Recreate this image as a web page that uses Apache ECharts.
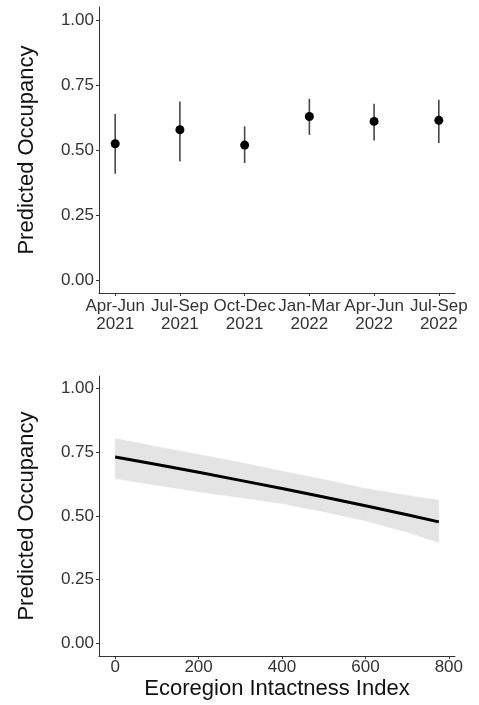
<!DOCTYPE html>
<html>
<head>
<meta charset="utf-8">
<script src="https://cdn.jsdelivr.net/npm/echarts@6/dist/echarts.min.js"></script>
<style>
  html, body { margin: 0; padding: 0; background: #ffffff; }
  #chart { width: 479px; height: 705px; }
</style>
</head>
<body>
<div id="chart"></div>
<script>
// Seasonal occupancy estimates with 95% intervals
const seasons = ['Apr-Jun\n2021', 'Jul-Sep\n2021', 'Oct-Dec\n2021', 'Jan-Mar\n2022', 'Apr-Jun\n2022', 'Jul-Sep\n2022'];
const seasonEstimate = [0.524, 0.578, 0.519, 0.629, 0.610, 0.614];
const seasonLower = [0.409, 0.456, 0.450, 0.558, 0.537, 0.527];
const seasonUpper = [0.638, 0.687, 0.591, 0.697, 0.678, 0.693];

// Occupancy as a function of the ecoregion intactness index
const intactness = [0, 100, 200, 300, 400, 500, 600, 700, 776];
const fitMean = [0.732, 0.702, 0.672, 0.640, 0.608, 0.575, 0.540, 0.505, 0.477];
const fitLower = [0.647, 0.621, 0.595, 0.573, 0.549, 0.517, 0.481, 0.437, 0.396];
const fitUpper = [0.804, 0.772, 0.742, 0.710, 0.676, 0.643, 0.608, 0.581, 0.562];

// Tick positions
const occupancyTicks = [0, 0.25, 0.5, 0.75, 1];
const seasonTicks = [1, 2, 3, 4, 5, 6];
const intactnessTicks = [0, 200, 400, 600, 800];

const FONT = "'Liberation Sans', Arial, Helvetica, sans-serif";
const AXIS_COLOR = '#333333';
const LABEL_COLOR = '#333333';
const TITLE_COLOR = '#111111';
const BAND_COLOR = '#e4e4e4';

function yAxisFor(gridIndex) {
  return {
    type: 'value', gridIndex,
    min: -0.05, max: 1.05,
    name: 'Predicted Occupancy', nameLocation: 'middle', nameGap: 61,
    nameTextStyle: { fontFamily: FONT, fontSize: 22, color: TITLE_COLOR },
    axisLine: { show: true, onZero: false, lineStyle: { color: AXIS_COLOR, width: 1 } },
    axisTick: { show: true, length: 3, customValues: occupancyTicks, lineStyle: { color: AXIS_COLOR } },
    axisLabel: {
      customValues: occupancyTicks, margin: 5,
      fontFamily: FONT, fontSize: 17, color: LABEL_COLOR,
      formatter: v => v.toFixed(2)
    },
    splitLine: { show: false }
  };
}

// Band pieces: one quadrilateral between each pair of neighbouring fit points
const bandPieces = intactness.slice(0, -1).map((x, i) => [
  x, fitLower[i], fitUpper[i], intactness[i + 1], fitLower[i + 1], fitUpper[i + 1]
]);

const chart = echarts.init(document.getElementById('chart'), null, { renderer: 'canvas' });

chart.setOption({
  backgroundColor: '#ffffff',
  animation: false,
  grid: [
    { left: 99, right: 24, top: 7, height: 286, containLabel: false, outerBoundsMode: 'none' },
    { left: 99, right: 24, top: 376, height: 280, containLabel: false, outerBoundsMode: 'none' }
  ],
  xAxis: [
    {
      type: 'value', gridIndex: 0, min: 0.75, max: 6.25,
      axisLine: { show: true, onZero: false, lineStyle: { color: AXIS_COLOR, width: 1 } },
      axisTick: { show: true, length: 3, customValues: seasonTicks, lineStyle: { color: AXIS_COLOR } },
      axisLabel: {
        customValues: seasonTicks, margin: 4,
        fontFamily: FONT, fontSize: 17, lineHeight: 18, color: LABEL_COLOR,
        formatter: v => seasons[Math.round(v) - 1] || ''
      },
      splitLine: { show: false }
    },
    {
      type: 'value', gridIndex: 1, min: -38.8, max: 814.8,
      name: 'Ecoregion Intactness Index', nameLocation: 'middle', nameGap: 22,
      nameTextStyle: { fontFamily: FONT, fontSize: 22, color: TITLE_COLOR },
      axisLine: { show: true, onZero: false, lineStyle: { color: AXIS_COLOR, width: 1 } },
      axisTick: { show: true, length: 3, customValues: intactnessTicks, lineStyle: { color: AXIS_COLOR } },
      axisLabel: {
        customValues: intactnessTicks, margin: 3,
        fontFamily: FONT, fontSize: 17, color: LABEL_COLOR
      },
      splitLine: { show: false }
    }
  ],
  yAxis: [yAxisFor(0), yAxisFor(1)],
  series: [
    {
      // Interval lines for each season
      type: 'custom', xAxisIndex: 0, yAxisIndex: 0,
      data: seasons.map((s, i) => [i + 1, seasonLower[i], seasonUpper[i]]),
      renderItem: (params, api) => {
        const a = api.coord([api.value(0), api.value(1)]);
        const b = api.coord([api.value(0), api.value(2)]);
        return {
          type: 'line',
          shape: { x1: a[0], y1: a[1], x2: b[0], y2: b[1] },
          style: { stroke: '#474747', lineWidth: 1.6 }
        };
      },
      z: 2
    },
    {
      type: 'scatter', xAxisIndex: 0, yAxisIndex: 0,
      data: seasonEstimate.map((v, i) => [i + 1, v]),
      symbol: 'circle', symbolSize: 9,
      itemStyle: { color: '#000000', opacity: 1 },
      z: 3
    },
    {
      // Confidence band around the fitted curve
      type: 'custom', xAxisIndex: 1, yAxisIndex: 1,
      data: bandPieces,
      renderItem: (params, api) => {
        const p1 = api.coord([api.value(0), api.value(1)]);
        const p2 = api.coord([api.value(3), api.value(4)]);
        const p3 = api.coord([api.value(3), api.value(5)]);
        const p4 = api.coord([api.value(0), api.value(2)]);
        return {
          type: 'polygon',
          shape: { points: [p1, p2, p3, p4] },
          style: { fill: BAND_COLOR, stroke: BAND_COLOR, lineWidth: 0.6 }
        };
      },
      z: 1
    },
    {
      // Fitted occupancy
      type: 'line', xAxisIndex: 1, yAxisIndex: 1,
      data: intactness.map((x, i) => [x, fitMean[i]]),
      showSymbol: false, symbol: 'none',
      lineStyle: { color: '#000000', width: 3 },
      z: 3
    }
  ]
});
</script>
</body>
</html>
